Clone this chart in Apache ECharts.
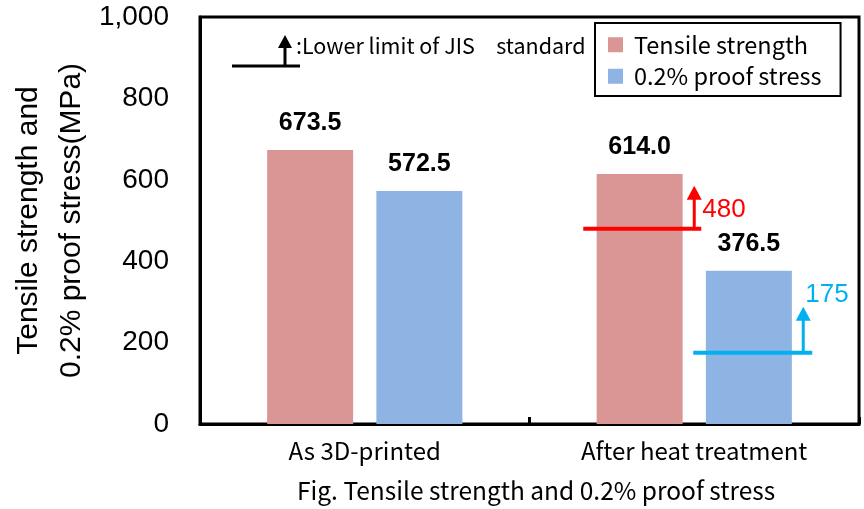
<!DOCTYPE html>
<html>
<head>
<meta charset="utf-8">
<script src="https://cdn.jsdelivr.net/npm/echarts@6/dist/echarts.min.js"></script>
<style>
  html, body { margin: 0; padding: 0; background: #fff; }
  #chart { width: 864px; height: 509px; }
</style>
</head>
<body>
<div id="chart"></div>
<script>
// Categories and measured strengths (MPa)
const categories = ['As 3D-printed', 'After heat treatment'];
const tensileStrength = [673.5, 614.0];
const proofStress = [572.5, 376.5];
const seriesNames = ['Tensile strength', '0.2% proof stress'];

// JIS lower limits for the heat-treated condition
const limitCategory = [1, 1];
const limitValues = [480, 175];

const yTicks = [0, 200, 400, 600, 800, 1000];

const RED = '#D99694';
const BLUE = '#8EB4E3';
const LIMIT_COLORS = ['#FF0000', '#00B0F0'];
const JP_FONT = '"Noto Sans CJK JP", "Noto Sans", sans-serif';
const NUM_FONT = '"Liberation Sans", Arial, sans-serif';

// Pixel layout of each limit marker relative to the category centre
const limitLayout = [
  { x0: -111, x1: 7, arrowX: 0, len: 43, labelX: 8, labelDy: -19 },
  { x0: -1, x1: 118, arrowX: 109, len: 46, labelX: 111, labelDy: -58 }
];

const chart = echarts.init(document.getElementById('chart'));

function renderLimit(params, api) {
  const idx = params.dataIndex;
  const L = limitLayout[idx];
  const color = LIMIT_COLORS[idx];
  const p = api.coord([api.value(0), api.value(1)]);
  const cx = p[0], cy = p[1];
  const ax = cx + L.arrowX;
  const headH = 14, headW = 15;
  return {
    type: 'group',
    children: [
      { type: 'line', shape: { x1: cx + L.x0, y1: cy, x2: cx + L.x1, y2: cy },
        style: { stroke: color, lineWidth: 4 } },
      { type: 'line', shape: { x1: ax, y1: cy, x2: ax, y2: cy - L.len + headH - 1 },
        style: { stroke: color, lineWidth: 3 } },
      { type: 'polygon', shape: { points: [[ax, cy - L.len], [ax - headW / 2, cy - L.len + headH], [ax + headW / 2, cy - L.len + headH]] },
        style: { fill: color } },
      { type: 'text', x: cx + L.labelX, y: cy + L.labelDy,
        style: { text: String(api.value(1)), fill: color, font: '26px ' + NUM_FONT,
                 textAlign: 'left', textVerticalAlign: 'middle' } }
    ]
  };
}

const option = {
  animation: false,
  backgroundColor: '#fff',
  grid: {
    left: 200, top: 17, right: 5, bottom: 85,
    outerBoundsMode: 'none', containLabel: false,
    show: true, borderColor: '#000', borderWidth: 3, backgroundColor: 'transparent'
  },
  legend: {
    orient: 'vertical',
    left: 595, top: 23,
    data: seriesNames,
    icon: 'rect',
    itemWidth: 15, itemHeight: 15, itemGap: 8,
    padding: [10, 19, 8, 13],
    borderColor: '#000', borderWidth: 2, backgroundColor: '#fff',
    textStyle: { fontSize: 23.5, fontFamily: JP_FONT, color: '#000', padding: [0, 0, 0, 6] }
  },
  xAxis: {
    type: 'category',
    data: categories,
    axisLine: { lineStyle: { color: '#000', width: 3 } },
    axisTick: { show: true, inside: true, length: 7, lineStyle: { color: '#000', width: 3 } },
    axisLabel: { color: '#000', fontSize: 24, fontFamily: JP_FONT, margin: 15 },
    splitLine: { show: false }
  },
  yAxis: {
    type: 'value',
    min: yTicks[0], max: yTicks[yTicks.length - 1], interval: 200,
    name: 'Tensile strength and\n0.2% proof stress(MPa)',
    nameLocation: 'middle', nameRotate: 90, nameGap: 107, nameMoveOverlap: false,
    nameTextStyle: { fontSize: 30, fontFamily: NUM_FONT, color: '#000', lineHeight: 43 },
    axisLine: { show: true, lineStyle: { color: '#000', width: 3 } },
    axisTick: { show: false },
    splitLine: { show: false },
    axisLabel: {
      color: '#000', fontSize: 28, fontFamily: NUM_FONT, margin: 31,
      formatter: v => v.toLocaleString('en-US')
    }
  },
  series: [
    {
      name: seriesNames[0], type: 'bar', data: tensileStrength,
      barWidth: 86, barGap: '27%',
      itemStyle: { color: RED },
      label: { show: true, position: 'top', distance: 14, color: '#000',
               fontSize: 25, fontWeight: 'bold', fontFamily: NUM_FONT,
               formatter: p => p.value.toFixed(1) }
    },
    {
      name: seriesNames[1], type: 'bar', data: proofStress,
      barWidth: 86, barGap: '27%',
      itemStyle: { color: BLUE },
      label: { show: true, position: 'top', distance: 14, color: '#000',
               fontSize: 25, fontWeight: 'bold', fontFamily: NUM_FONT,
               formatter: p => p.value.toFixed(1) }
    },
    {
      name: 'JIS lower limit', type: 'custom',
      data: limitCategory.map((c, i) => [c, limitValues[i]]),
      encode: { x: 0, y: 1 },
      renderItem: renderLimit,
      z: 5
    }
  ],
  graphic: [
    // Key for the lower-limit marker
    { type: 'line', shape: { x1: 232, y1: 66, x2: 300, y2: 66 }, style: { stroke: '#000', lineWidth: 3 } },
    { type: 'line', shape: { x1: 285, y1: 66, x2: 285, y2: 46 }, style: { stroke: '#000', lineWidth: 3 } },
    { type: 'polygon', shape: { points: [[285, 35], [278, 48], [292, 48]] }, style: { fill: '#000' } },
    { type: 'text', left: 296, top: 35,
      style: { text: ':Lower limit of JIS\u2002\u2002standard', font: '21.5px ' + JP_FONT, fill: '#000' } },
    // Figure caption
    { type: 'text', left: 297, top: 478,
      style: { text: 'Fig. Tensile strength and 0.2% proof stress', font: '24.5px ' + JP_FONT, fill: '#000' } }
  ]
};

chart.setOption(option);
</script>
</body>
</html>
